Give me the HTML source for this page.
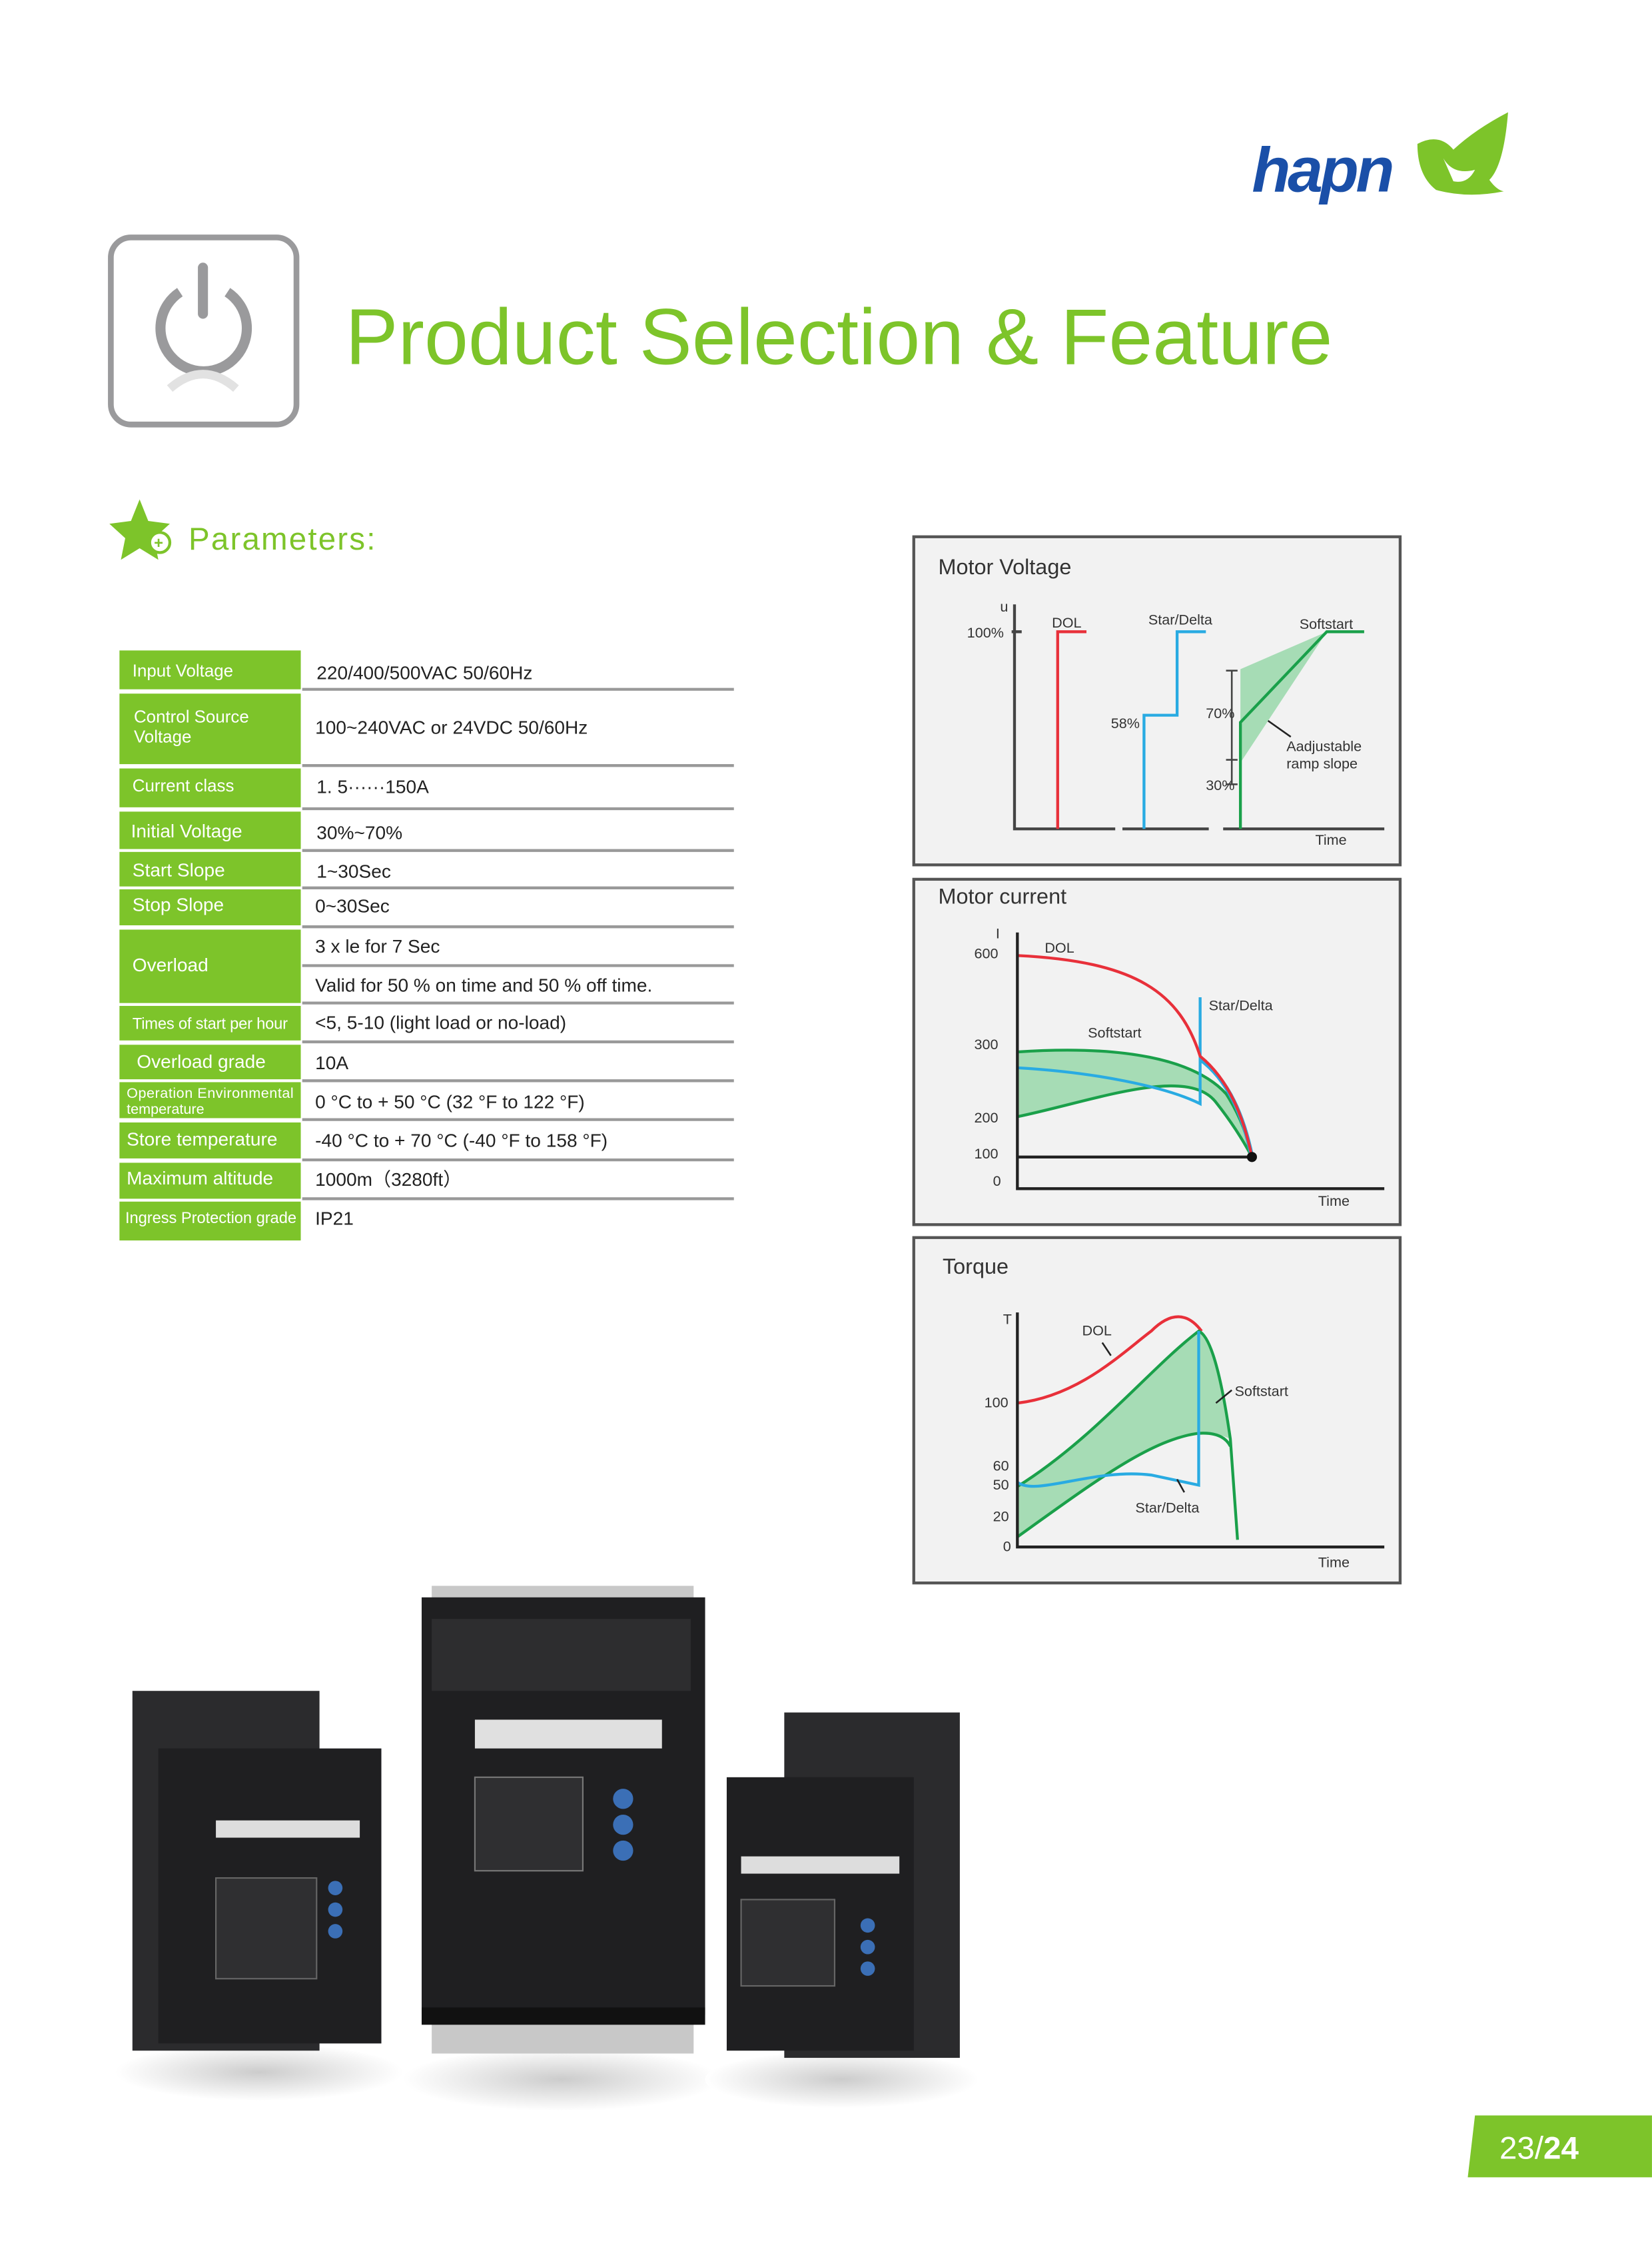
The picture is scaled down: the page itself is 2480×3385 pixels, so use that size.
<!DOCTYPE html>
<html><head><meta charset="utf-8"><style>
html,body{margin:0;padding:0;background:#fff}
svg{display:block}
text{font-family:"Liberation Sans",sans-serif}
</style></head><body>
<svg width="2480" height="3385" viewBox="0 0 1148 1567" xmlns="http://www.w3.org/2000/svg">
<rect width="1148" height="1567" fill="#fff"/>
<!-- logo -->
<text x="870" y="133" font-size="44" font-weight="bold" font-style="italic" fill="#1a4fa8" letter-spacing="-2">hapn</text>
<path d="M985 100 Q1000 92 1010 104 Q1025 90 1048 78 Q1045 115 1035 125 Q1040 132 1045 133 Q1020 138 998 132 Q985 122 985 100 Z" fill="#7dc42a"/>
<path d="M1003 110 Q1010 122 1025 118 Q1020 128 1010 126 Z" fill="#fff"/>
<!-- title icon -->
<rect x="77" y="165" width="129" height="130" rx="14" fill="#fff" stroke="#9a9a9c" stroke-width="4"/>
<path d="M125 203 A30 30 0 1 0 158 203" fill="none" stroke="#9a9a9c" stroke-width="7"/>
<line x1="141" y1="186" x2="141" y2="218" stroke="#9a9a9c" stroke-width="7" stroke-linecap="round"/>
<path d="M118 270 Q141 250 164 270" fill="none" stroke="#e2e2e2" stroke-width="6"/>
<text x="240" y="253" font-size="55" fill="#7dc42a" textLength="686" lengthAdjust="spacingAndGlyphs">Product Selection &amp; Feature</text>
<!-- params -->
<polygon points="97,347 103,362 118,364 107,374 110,389 97,381 84,389 87,374 76,364 91,362" fill="#7dc42a"/>
<circle cx="111" cy="377" r="7" fill="#fff" stroke="#7dc42a" stroke-width="2"/>
<text x="107" y="381" font-size="11" fill="#7dc42a" font-weight="bold">+</text>
<text x="131" y="382" font-size="22" fill="#7dc42a" letter-spacing="1">Parameters:</text>
<!-- table -->
<g fill="#7dc42a">
<rect x="83" y="452" width="126" height="27"/>
<rect x="83" y="482" width="126" height="49"/>
<rect x="83" y="534" width="126" height="27"/>
<rect x="83" y="564" width="126" height="26"/>
<rect x="83" y="592" width="126" height="24"/>
<rect x="83" y="618" width="126" height="25"/>
<rect x="83" y="646" width="126" height="51"/>
<rect x="83" y="699" width="126" height="24"/>
<rect x="83" y="726" width="126" height="24"/>
<rect x="83" y="752" width="126" height="25"/>
<rect x="83" y="780" width="126" height="25"/>
<rect x="83" y="808" width="126" height="25"/>
<rect x="83" y="835" width="126" height="27"/>
</g>
<g stroke="#999" stroke-width="2">
<line x1="210" y1="479" x2="510" y2="479"/>
<line x1="210" y1="532" x2="510" y2="532"/>
<line x1="210" y1="562" x2="510" y2="562"/>
<line x1="210" y1="591" x2="510" y2="591"/>
<line x1="210" y1="617" x2="510" y2="617"/>
<line x1="210" y1="644" x2="510" y2="644"/>
<line x1="210" y1="671" x2="510" y2="671"/>
<line x1="210" y1="697" x2="510" y2="697"/>
<line x1="210" y1="724" x2="510" y2="724"/>
<line x1="210" y1="751" x2="510" y2="751"/>
<line x1="210" y1="778" x2="510" y2="778"/>
<line x1="210" y1="806" x2="510" y2="806"/>
<line x1="210" y1="833" x2="510" y2="833"/>
</g>
<g fill="#fff" font-size="12">
<text x="92" y="470">Input Voltage</text>
<text x="93" y="502">Control Source</text>
<text x="93" y="516">Voltage</text>
<text x="92" y="550">Current class</text>
<text x="91" y="582" font-size="13">Initial Voltage</text>
<text x="92" y="609" font-size="13">Start Slope</text>
<text x="92" y="633" font-size="13">Stop Slope</text>
<text x="92" y="675" font-size="13">Overload</text>
<text x="92" y="715" font-size="11" textLength="108">Times of start per hour</text>
<text x="95" y="742" font-size="13">Overload grade</text>
<text x="88" y="763" font-size="10" textLength="116">Operation Environmental</text>
<text x="88" y="774" font-size="10">temperature</text>
<text x="88" y="796" font-size="13">Store temperature</text>
<text x="88" y="823" font-size="13">Maximum altitude</text>
<text x="87" y="850" font-size="11" textLength="119">Ingress Protection grade</text>
</g>
<g fill="#222" font-size="13">
<text x="220" y="472">220/400/500VAC  50/60Hz</text>
<text x="219" y="510">100~240VAC or 24VDC  50/60Hz</text>
<text x="220" y="551">1. 5······150A</text>
<text x="220" y="583">30%~70%</text>
<text x="220" y="610">1~30Sec</text>
<text x="219" y="634">0~30Sec</text>
<text x="219" y="662">3 x le for 7 Sec</text>
<text x="219" y="689">Valid for 50 % on time and 50 % off time.</text>
<text x="219" y="715">&lt;5, 5-10  (light load or no-load)</text>
<text x="219" y="743">10A</text>
<text x="219" y="770">0 °C to + 50 °C  (32 °F to 122 °F)</text>
<text x="219" y="797">-40 °C to + 70 °C  (-40 °F to 158 °F)</text>
<text x="219" y="824">1000m（3280ft）</text>
<text x="219" y="851">IP21</text>
</g>
<!-- charts -->
<g fill="#f2f2f2" stroke="#555" stroke-width="2">
<rect x="635" y="373" width="338" height="228"/>
<rect x="635" y="611" width="338" height="240"/>
<rect x="635" y="860" width="338" height="240"/>
</g>
<g font-size="10" fill="#333">
<text x="652" y="399" font-size="15">Motor Voltage</text>
<text x="695" y="425">u</text>
<text x="672" y="443">100%</text>
<text x="731" y="436">DOL</text>
<text x="798" y="434">Star/Delta</text>
<text x="903" y="437">Softstart</text>
<text x="772" y="506">58%</text>
<text x="838" y="499">70%</text>
<text x="838" y="549">30%</text>
<text x="894" y="522">Aadjustable</text>
<text x="894" y="534">ramp slope</text>
<text x="914" y="587">Time</text>
</g>
<g fill="none" stroke-width="2">
<path d="M705 420 V576 H775 M703 439 H710 M780 576 H840 M850 576 H962" stroke="#444"/>
<path d="M856 466 V545 M852 466 H860 M852 545 H860 M852 528 H860" stroke="#444" stroke-width="1.2"/>
<path d="M880 500 L897 512" stroke="#222" stroke-width="1.2"/>
<path d="M735 576 V439 H755" stroke="#e8303a"/>
<path d="M795 576 V497 H818 V439 H838" stroke="#29abe2"/>
<polygon points="862,465 922,439 862,530" fill="#a6dcb5" stroke="none"/>
<path d="M862 576 V502 L922 439 H948" stroke="#1aa04a"/>
</g>
<g font-size="10" fill="#333">
<text x="652" y="628" font-size="15">Motor current</text>
<text x="692" y="652">I</text>
<text x="677" y="666">600</text>
<text x="677" y="729">300</text>
<text x="677" y="780">200</text>
<text x="677" y="805">100</text>
<text x="690" y="824">0</text>
<text x="916" y="838">Time</text>
<text x="726" y="662">DOL</text>
<text x="756" y="721">Softstart</text>
<text x="840" y="702">Star/Delta</text>
</g>
<g fill="none" stroke-width="2">
<path d="M707 731 C780 726 830 736 852 760 Q865 780 870 804 Q860 785 845 766 C825 740 760 765 707 776 Z" fill="#a6dcb5" stroke="none"/>
<path d="M707 731 C780 726 830 736 852 760 Q865 780 870 804" stroke="#1aa04a"/>
<path d="M707 776 C760 765 825 740 845 766 Q860 785 870 804" stroke="#1aa04a"/>
<path d="M707 742 C760 745 810 755 834 767 V693" stroke="#29abe2"/>
<path d="M834 736 Q860 755 870 804" stroke="#29abe2" stroke-width="3"/>
<path d="M707 664 C790 668 820 690 834 734 Q860 755 870 804" stroke="#e8303a"/>
<path d="M707 648 V826 H962 M707 804 H870" stroke="#222"/>
<circle cx="870" cy="804" r="3.5" fill="#111" stroke="none"/>
</g>
<g font-size="10" fill="#333">
<text x="655" y="885" font-size="15">Torque</text>
<text x="697" y="920">T</text>
<text x="684" y="978">100</text>
<text x="690" y="1022">60</text>
<text x="690" y="1035">50</text>
<text x="690" y="1057">20</text>
<text x="697" y="1078">0</text>
<text x="916" y="1089">Time</text>
<text x="752" y="928">DOL</text>
<text x="858" y="970">Softstart</text>
<text x="789" y="1051">Star/Delta</text>
</g>
<g fill="none" stroke-width="2">
<path d="M707 1033 C760 1000 800 950 833 925 Q845 930 855 1000 Q845 995 833 996 C800 1000 760 1030 707 1068 Z" fill="#a6dcb5" stroke="none"/>
<path d="M707 975 C750 970 780 940 800 925 Q820 905 835 925" stroke="#e8303a"/>
<path d="M707 1033 C760 1000 800 950 833 925 Q845 930 855 1000 L860 1070" stroke="#1aa04a"/>
<path d="M707 1068 C760 1030 800 1000 833 996 Q850 995 855 1005" stroke="#1aa04a"/>
<path d="M707 1030 C720 1040 760 1020 800 1025 L833 1032 V925" stroke="#29abe2"/>
<path d="M707 912 V1075 H962" stroke="#222"/>
<path d="M766 933 L772 942 M856 966 L845 975 M818 1028 L823 1037" stroke="#222" stroke-width="1.2"/>
</g>
<!-- products -->
<defs><radialGradient id="sh"><stop offset="0" stop-color="#ccc"/><stop offset="1" stop-color="#fff"/></radialGradient></defs>
<ellipse cx="180" cy="1440" rx="100" ry="20" fill="url(#sh)"/>
<ellipse cx="390" cy="1445" rx="110" ry="22" fill="url(#sh)"/>
<ellipse cx="585" cy="1445" rx="95" ry="20" fill="url(#sh)"/>
<rect x="92" y="1175" width="130" height="250" fill="#2b2b2d"/>
<rect x="110" y="1215" width="155" height="205" fill="#1f1f21"/>
<rect x="150" y="1265" width="100" height="12" fill="#ddd"/>
<rect x="150" y="1305" width="70" height="70" fill="#2f2f31" stroke="#666"/>
<circle cx="233" cy="1312" r="5" fill="#3b6fb6"/><circle cx="233" cy="1327" r="5" fill="#3b6fb6"/><circle cx="233" cy="1342" r="5" fill="#3b6fb6"/>
<rect x="300" y="1102" width="182" height="325" fill="#c8c8c8"/>
<rect x="293" y="1110" width="197" height="290" fill="#1f1f21"/>
<rect x="300" y="1125" width="180" height="50" fill="#2d2d2f"/>
<rect x="330" y="1195" width="130" height="20" fill="#e0e0e0"/>
<rect x="330" y="1235" width="75" height="65" fill="#2f2f31" stroke="#777"/>
<circle cx="433" cy="1250" r="7" fill="#3b6fb6"/><circle cx="433" cy="1268" r="7" fill="#3b6fb6"/><circle cx="433" cy="1286" r="7" fill="#3b6fb6"/>
<rect x="293" y="1395" width="197" height="12" fill="#111"/>
<rect x="545" y="1190" width="122" height="240" fill="#2b2b2d"/>
<rect x="505" y="1235" width="130" height="190" fill="#1f1f21"/>
<rect x="515" y="1290" width="110" height="12" fill="#ddd"/>
<rect x="515" y="1320" width="65" height="60" fill="#2f2f31" stroke="#666"/>
<circle cx="603" cy="1338" r="5" fill="#3b6fb6"/><circle cx="603" cy="1353" r="5" fill="#3b6fb6"/><circle cx="603" cy="1368" r="5" fill="#3b6fb6"/>
<!-- page number -->
<polygon points="1025,1470 1148,1470 1148,1513 1020,1513" fill="#7dc42a"/>
<text x="1042" y="1500" font-size="22" fill="#fff">23/<tspan font-weight="bold">24</tspan></text>
</svg>
</body></html>
